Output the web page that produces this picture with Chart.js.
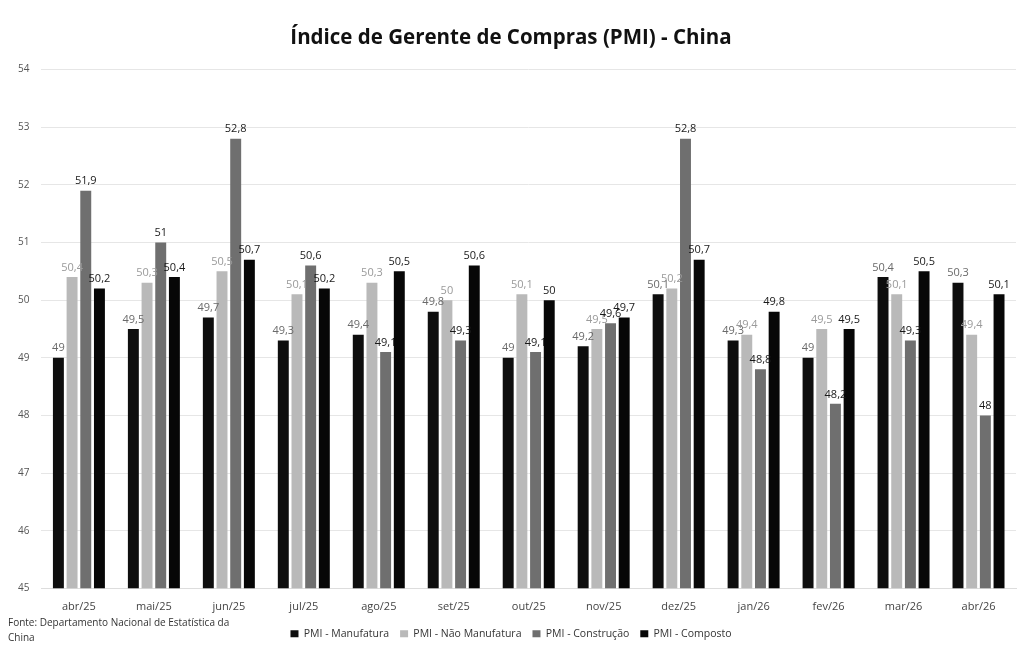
<!DOCTYPE html>
<html>
<head>
<meta charset="utf-8">
<script src="https://cdn.jsdelivr.net/npm/chart.js@4.4.0/dist/chart.umd.min.js"></script>
<style>
html,body{margin:0;padding:0;background:#fff;}
#wrap{position:relative;width:1022px;height:646px;}
</style>
</head>
<body>
<div id="wrap"><canvas id="c" width="1022" height="646"></canvas></div>
<script>
const categories = ["abr/25","mai/25","jun/25","jul/25","ago/25","set/25","out/25","nov/25","dez/25","jan/26","fev/26","mar/26","abr/26"];
const manufatura = [49, 49.5, 49.7, 49.3, 49.4, 49.8, 49, 49.2, 50.1, 49.3, 49, 50.4, 50.3];
const naoManufatura = [50.4, 50.3, 50.5, 50.1, 50.3, 50, 50.1, 49.5, 50.2, 49.4, 49.5, 50.1, 49.4];
const construcao = [51.9, 51, 52.8, 50.6, 49.1, 49.3, 49.1, 49.6, 52.8, 48.8, 48.2, 49.3, 48];
const composto = [50.2, 50.4, 50.7, 50.2, 50.5, 50.6, 50, 49.7, 50.7, 49.8, 49.5, 50.5, 50.1];
const seriesNames = ["PMI - Manufatura","PMI - Não Manufatura","PMI - Construção","PMI - Composto"];
const titleText = "Índice de Gerente de Compras (PMI) - China";
const sourceLines = ["Fonte: Departamento Nacional de Estatística da","China"];

const fmt = v => String(v).replace('.', ',');

const labelPlugin = {
  id: 'valueLabels',
  afterDatasetsDraw(chart) {
    const ctx = chart.ctx;
    const labelColors = ['#6a6a6a','#9a9a9a','#1a1a1a','#1a1a1a'];
    ctx.save();
    ctx.font = '11px "Open Sans"';
    ctx.textAlign = 'center';
    ctx.textBaseline = 'bottom';
    chart.data.datasets.forEach((ds, di) => {
      const meta = chart.getDatasetMeta(di);
      meta.data.forEach((el, i) => {
        ctx.fillStyle = labelColors[di];
        ctx.fillText(fmt(ds.data[i]), el.x, el.y - 4);
      });
    });
    ctx.restore();
  }
};

const sourcePlugin = {
  id: 'sourceText',
  afterDraw(chart) {
    const ctx = chart.ctx;
    ctx.save();
    ctx.font = '10px "Open Sans"';
    ctx.fillStyle = '#333';
    ctx.textAlign = 'left';
    ctx.textBaseline = 'middle';
    ctx.fillText(sourceLines[0], 8, 623);
    ctx.fillText(sourceLines[1], 8, 638);
    ctx.restore();
  }
};

const colors = ['#0e0e0e','#b9b9b9','#6f6f6f','#070707'];
const dataArrays = [manufatura, naoManufatura, construcao, composto];

new Chart(document.getElementById('c'), {
  type: 'bar',
  data: {
    labels: categories,
    datasets: dataArrays.map((d, i) => ({
      label: seriesNames[i],
      data: d,
      backgroundColor: colors[i],
      borderWidth: 0,
      barPercentage: 0.8,
      categoryPercentage: 0.73
    }))
  },
  options: {
    responsive: false,
    animation: false,
    devicePixelRatio: 1,
    layout: { padding: { left: 6, right: 6, top: 4, bottom: -3 } },
    plugins: {
      title: {
        display: true,
        text: titleText,
        color: '#111',
        font: { family: '"Open Sans"', size: 20.5, weight: 'bold' },
        padding: { top: 22, bottom: 19 }
      },
      legend: {
        position: 'bottom',
        labels: {
          boxWidth: 8, boxHeight: 7,
          color: '#333',
          font: { family: '"Open Sans"', size: 10.5 },
          padding: 11
        }
      },
      tooltip: { enabled: false }
    },
    scales: {
      x: {
        grid: { display: false },
        border: { display: true, color: '#dddddd' },
        ticks: { color: '#444', font: { family: '"Open Sans"', size: 11 }, padding: 4 }
      },
      y: {
        min: 45, max: 54,
        ticks: { stepSize: 1, color: '#555', font: { family: '"Open Sans"', size: 10 }, padding: 12 },
        grid: { color: '#e6e6e6', drawTicks: false },
        border: { display: false }
      }
    }
  },
  plugins: [labelPlugin, sourcePlugin]
});
</script>
</body>
</html>
